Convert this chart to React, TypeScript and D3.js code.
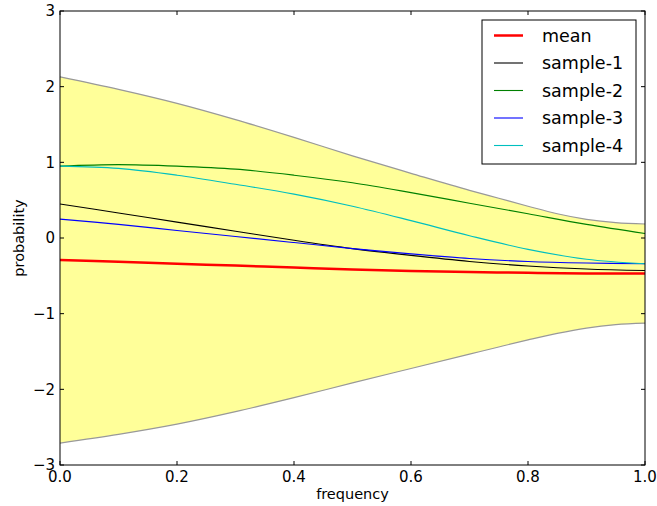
import React from "react";
import * as d3 from "d3";

const xs = [0, 0.1, 0.2, 0.3, 0.4, 0.5, 0.6, 0.7, 0.8, 0.9, 1.0];
const meanVals = [-0.29, -0.315, -0.34, -0.365, -0.39, -0.415, -0.435, -0.45, -0.46, -0.468, -0.47];
const sample1 = [0.45, 0.33, 0.21, 0.09, -0.03, -0.14, -0.23, -0.31, -0.37, -0.41, -0.43];
const sample2 = [0.95, 0.97, 0.95, 0.91, 0.83, 0.73, 0.6, 0.46, 0.32, 0.18, 0.06];
const sample3 = [0.25, 0.18, 0.1, 0.02, -0.06, -0.14, -0.21, -0.27, -0.31, -0.33, -0.34];
const sample4 = [0.95, 0.92, 0.83, 0.71, 0.58, 0.42, 0.23, 0.03, -0.15, -0.28, -0.34];

const bandX = [0, 0.1, 0.2, 0.3, 0.4, 0.5, 0.6, 0.7, 0.75, 0.8, 0.85, 0.9, 0.95, 1.0];
const bandUpper = [2.13, 1.965, 1.78, 1.565, 1.33, 1.085, 0.855, 0.63, 0.525, 0.42, 0.321, 0.247, 0.203, 0.185];
const bandLower = [-2.71, -2.595, -2.46, -2.295, -2.11, -1.915, -1.725, -1.535, -1.44, -1.347, -1.26, -1.19, -1.145, -1.125];

const xTicks = [0, 0.2, 0.4, 0.6, 0.8, 1.0];
const yTicks = [-3, -2, -1, 0, 1, 2, 3];

const series = [
  { name: "mean", vals: meanVals, color: "#ff0000", w: 2.5 },
  { name: "sample-1", vals: sample1, color: "#000000", w: 1.1 },
  { name: "sample-2", vals: sample2, color: "#008000", w: 1.1 },
  { name: "sample-3", vals: sample3, color: "#0000ff", w: 1.1 },
  { name: "sample-4", vals: sample4, color: "#00bfbf", w: 1.1 },
];

const W = 657, H = 506;
const L = 60, R = 645, T = 11, B = 465;
const FONT = "DejaVu Sans, sans-serif";

export default function App() {
  const x = d3.scaleLinear().domain([0, 1]).range([L, R]);
  const y = d3.scaleLinear().domain([-3, 3]).range([B, T]);
  const curve = d3.curveCatmullRom.alpha(0.5);
  const bandCurve = d3.curveMonotoneX;
  const idx = bandX.map((_, i) => i);
  const area = d3
    .area<number>()
    .x((i) => x(bandX[i]))
    .y0((i) => y(bandLower[i]))
    .y1((i) => y(bandUpper[i]))
    .curve(bandCurve);
  const upper = d3.line<number>().x((i) => x(bandX[i])).y((i) => y(bandUpper[i])).curve(bandCurve);
  const lower = d3.line<number>().x((i) => x(bandX[i])).y((i) => y(bandLower[i])).curve(bandCurve);
  const line = (vals: number[]) =>
    d3.line<number>().x((_, i) => x(xs[i])).y((d) => y(d)).curve(curve)(vals) || "";
  const fmtX = (v: number) => v.toFixed(1);
  const fmtY = (v: number) => (v < 0 ? "\u2212" + Math.abs(v) : String(v));
  const tk = 4;

  const legX = 482, legY = 20, legW = 154, legH = 144;
  const rowY = (i: number) => 35.5 + i * 27.5;

  return (
    <svg width={W} height={H} style={{ position: "absolute", left: 0, top: 0, background: "#fff" }} fontFamily={FONT}>
      <rect x={0} y={0} width={W} height={H} fill="#fff" />
      <path d={area(idx) || ""} fill="#ffff99" stroke="none" />
      <path d={upper(idx) || ""} fill="none" stroke="#999999" strokeWidth={1.2} />
      <path d={lower(idx) || ""} fill="none" stroke="#999999" strokeWidth={1.2} />
      {series.slice(1).map((s) => (
        <path key={s.name} d={line(s.vals)} fill="none" stroke={s.color} strokeWidth={s.w} />
      ))}
      <path d={line(meanVals)} fill="none" stroke={series[0].color} strokeWidth={series[0].w} />

      {xTicks.map((t) => (
        <g key={"x" + t}>
          <line x1={x(t)} x2={x(t)} y1={B} y2={B - tk} stroke="#000" />
          <line x1={x(t)} x2={x(t)} y1={T} y2={T + tk} stroke="#000" />
          <text x={x(t)} y={482} textAnchor="middle" fontSize={15} fill="#000">
            {fmtX(t)}
          </text>
        </g>
      ))}
      {yTicks.map((t) => (
        <g key={"y" + t}>
          <line x1={L} x2={L + tk} y1={y(t)} y2={y(t)} stroke="#000" />
          <line x1={R} x2={R - tk} y1={y(t)} y2={y(t)} stroke="#000" />
          <text x={55} y={y(t)} dy="0.36em" textAnchor="end" fontSize={15} fill="#000">
            {fmtY(t)}
          </text>
        </g>
      ))}
      <rect x={L} y={T} width={R - L} height={B - T} fill="none" stroke="#000" strokeWidth={1} />

      <text x={(L + R) / 2} y={499} textAnchor="middle" fontSize={14.5} fill="#000">
        frequency
      </text>
      <text transform={`translate(24,${(T + B) / 2}) rotate(-90)`} textAnchor="middle" fontSize={14.5} fill="#000">
        probability
      </text>

      <rect x={legX} y={legY} width={legW} height={legH} fill="#fff" stroke="#000" strokeWidth={1} />
      {series.map((s, i) => (
        <g key={"leg" + s.name}>
          <line x1={494} x2={523} y1={rowY(i)} y2={rowY(i)} stroke={s.color} strokeWidth={s.w} />
          <text x={542} y={rowY(i)} dy="0.36em" fontSize={17.5} fill="#000">
            {s.name}
          </text>
        </g>
      ))}
    </svg>
  );
}
